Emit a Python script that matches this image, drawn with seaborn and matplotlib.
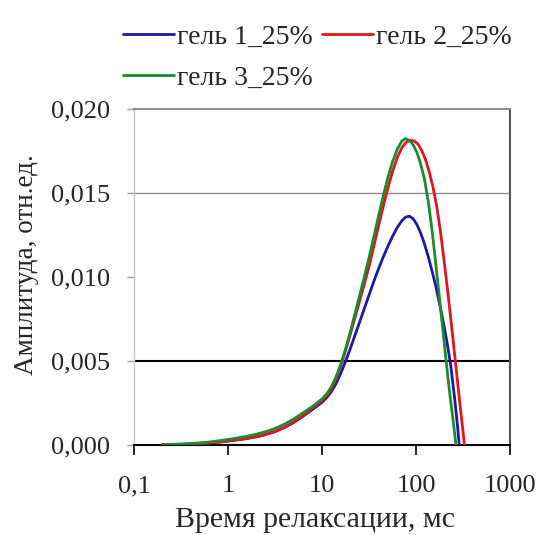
import numpy as np
import pandas as pd
import matplotlib
matplotlib.use("Agg")
import matplotlib.pyplot as plt
import seaborn as sns
from matplotlib.ticker import FixedLocator, FixedFormatter, NullLocator
from matplotlib.lines import Line2D

# ---- data; times given as log10(ms) ----
labels = ["гель 1_25%", "гель 2_25%", "гель 3_25%"]

logt_gel1 = [-0.70, -0.60, -0.50, -0.40, -0.30, -0.20, -0.10, 0.00, 0.10, 0.20, 0.30, 0.40,
             0.50, 0.60, 0.70, 0.80, 0.90, 1.00, 1.05, 1.10, 1.15, 1.20, 1.25, 1.30, 1.35,
             1.40, 1.45, 1.50, 1.55, 1.60, 1.65, 1.70, 1.75, 1.80, 1.85, 1.89, 1.93, 1.97,
             2.01, 2.05, 2.09, 2.13, 2.17, 2.21, 2.25, 2.29, 2.33, 2.37, 2.41, 2.44, 2.46]
amp_gel1 = [0.0, 0.00001, 0.00002, 0.00004, 0.00007, 0.00010, 0.00015, 0.00022, 0.00029,
            0.00037, 0.00047, 0.00060, 0.00078, 0.00102, 0.00132, 0.00170, 0.00210, 0.00252,
            0.00280, 0.00316, 0.00364, 0.00425, 0.00495, 0.00570, 0.00650, 0.00730, 0.00810,
            0.00890, 0.00970, 0.01045, 0.01115, 0.01180, 0.01240, 0.01292, 0.01333, 0.01355,
            0.01360, 0.01345, 0.01310, 0.01260, 0.01195, 0.01120, 0.01035, 0.00945, 0.00840,
            0.00730, 0.00610, 0.00470, 0.00280, 0.00120, 0.0]

logt_gel2 = [-0.70, -0.60, -0.50, -0.40, -0.30, -0.20, -0.10, 0.00, 0.10, 0.20, 0.30, 0.40,
             0.50, 0.60, 0.70, 0.80, 0.90, 1.00, 1.05, 1.10, 1.15, 1.20, 1.25, 1.30, 1.35,
             1.40, 1.45, 1.50, 1.55, 1.60, 1.65, 1.70, 1.75, 1.80, 1.85, 1.90, 1.94, 1.98,
             2.02, 2.06, 2.10, 2.14, 2.18, 2.22, 2.26, 2.30, 2.34, 2.38, 2.42, 2.46, 2.50, 2.514]
amp_gel2 = [0.0, 0.00001, 0.00002, 0.00004, 0.00007, 0.00010, 0.00015, 0.00022, 0.00029,
            0.00037, 0.00047, 0.00060, 0.00078, 0.00103, 0.00135, 0.00175, 0.00218, 0.00262,
            0.00292, 0.00332, 0.00390, 0.00468, 0.00558, 0.00655, 0.00755, 0.00855, 0.00955,
            0.01060, 0.01178, 0.01298, 0.01415, 0.01525, 0.01625, 0.01708, 0.01768, 0.01803,
            0.01812, 0.01808, 0.01790, 0.01752, 0.01700, 0.01625, 0.01535, 0.01420, 0.01270,
            0.01090, 0.00900, 0.00700, 0.00490, 0.00280, 0.00080, 0.0]

logt_gel3 = [-0.70, -0.60, -0.50, -0.40, -0.30, -0.20, -0.10, 0.00, 0.10, 0.20, 0.30, 0.40,
             0.50, 0.60, 0.70, 0.80, 0.90, 1.00, 1.05, 1.10, 1.15, 1.20, 1.25, 1.30, 1.35,
             1.40, 1.45, 1.50, 1.55, 1.60, 1.65, 1.70, 1.75, 1.80, 1.85, 1.89, 1.93, 1.97,
             2.01, 2.05, 2.09, 2.13, 2.17, 2.21, 2.25, 2.29, 2.32, 2.36, 2.40, 2.425]
amp_gel3 = [0.0, 0.00002, 0.00004, 0.00007, 0.00011, 0.00016, 0.00023, 0.00031, 0.00040,
            0.00050, 0.00062, 0.00077, 0.00097, 0.00122, 0.00153, 0.00190, 0.00228, 0.00272,
            0.00302, 0.00345, 0.00405, 0.00480, 0.00570, 0.00670, 0.00778, 0.00888, 0.00998,
            0.01113, 0.01233, 0.01358, 0.01478, 0.01588, 0.01683, 0.01758, 0.01808, 0.01822,
            0.01812, 0.01785, 0.01740, 0.01670, 0.01580, 0.01450, 0.01280, 0.01080, 0.00870,
            0.00660, 0.00500, 0.00300, 0.00120, 0.0]

x_ticks = [0.1, 1, 10, 100, 1000]
x_ticklabels = ["0,1", "1", "10", "100", "1000"]
y_ticks = [0.0, 0.005, 0.010, 0.015, 0.020]
y_ticklabels = ["0,000", "0,005", "0,010", "0,015", "0,020"]

colors = ["#1a1aa6", "#e0161c", "#1c8a2e"]

frames = []
for lt, am, lab in zip([logt_gel1, logt_gel2, logt_gel3],
                       [amp_gel1, amp_gel2, amp_gel3], labels):
    frames.append(pd.DataFrame({"t": np.power(10.0, lt), "a": am, "s": lab}))
df = pd.concat(frames, ignore_index=True)

sns.set_theme(style="white")
plt.rcParams["font.family"] = ["Liberation Serif", "DejaVu Serif"]

fig = plt.figure(figsize=(5.43, 5.35), dpi=100)
ax = fig.add_axes([134 / 543, 1 - 444.7 / 535, (510 - 134) / 543, (444.7 - 108.7) / 535])

ax.axhline(0.005, color="black", lw=1.5, zorder=1)
ax.axhline(0.015, color="#8c8c8c", lw=1.0, zorder=1)

sns.lineplot(data=df, x="t", y="a", hue="s", palette=colors, lw=2.0,
             ax=ax, sort=False, legend=False, zorder=3)

ax.set_xscale("log")
ax.set_xlim(0.1, 1000)
ax.set_ylim(0, 0.020)
ax.xaxis.set_major_locator(FixedLocator(x_ticks))
ax.xaxis.set_major_formatter(FixedFormatter(x_ticklabels))
ax.xaxis.set_minor_locator(NullLocator())
ax.yaxis.set_major_locator(FixedLocator(y_ticks))
ax.yaxis.set_major_formatter(FixedFormatter(y_ticklabels))

ax.tick_params(axis="x", direction="out", length=7, width=1.2, color="black",
               labelsize=19, pad=15, bottom=True)
ax.tick_params(axis="y", direction="out", length=5, width=1.0, color="#a0a0a0",
               labelsize=19, pad=12, left=True)

for side, c, w in [("left", "#c8c8c8", 1.0), ("top", "#8c8c8c", 1.5),
                   ("right", "#555555", 1.5), ("bottom", "black", 1.5)]:
    ax.spines[side].set_color(c)
    ax.spines[side].set_linewidth(w)
    ax.spines[side].set_visible(True)

xl = ax.set_xlabel("Время релаксации, мс", fontsize=21.5)
xl.set_va("center")
ax.xaxis.set_label_coords(0.481, -0.225)
yl = ax.set_ylabel("Амплитуда, отн.ед.", fontsize=19.5)
yl.set_va("center")
ax.yaxis.set_label_coords(-0.287, 0.535)

handles = [Line2D([], [], color=c, lw=2.0) for c in colors]
order = [0, 2, 1]
fig.legend([handles[i] for i in order], [labels[i] for i in order], ncol=2,
           loc="upper left", bbox_to_anchor=(123 / 543, 1 - 24 / 535),
           frameon=False, fontsize=20, handlelength=1.85, handletextpad=0.08,
           columnspacing=0.35, labelspacing=0.58, borderpad=0, borderaxespad=0)

fig.savefig("out.png", dpi=100, facecolor="white")
